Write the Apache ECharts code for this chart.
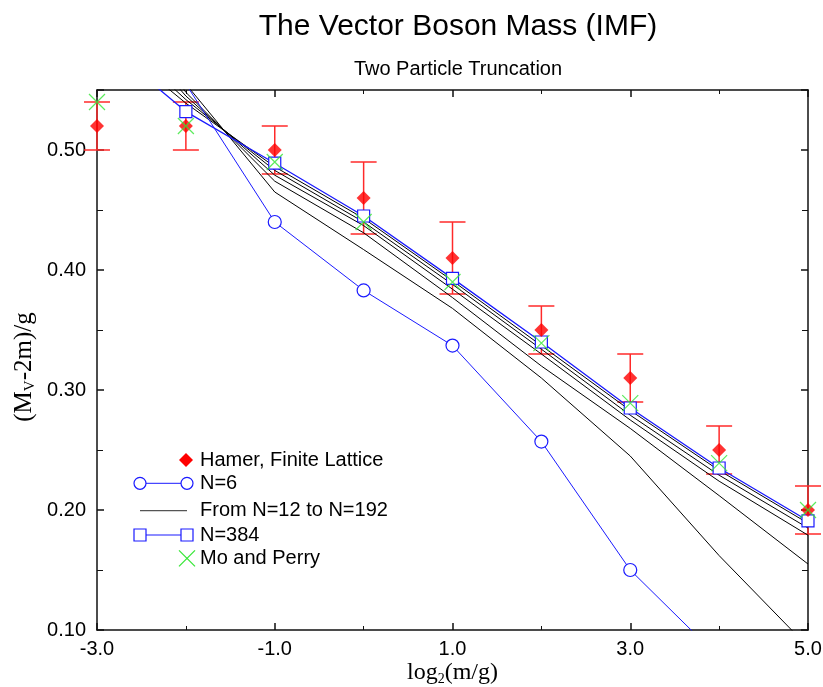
<!DOCTYPE html>
<html><head><meta charset="utf-8">
<script src="https://cdn.jsdelivr.net/npm/echarts@6/dist/echarts.min.js"></script>
<style>html,body{margin:0;padding:0;background:#fff}#c{width:823px;height:687px}</style>
</head><body><div id="c"></div>
<script>
// ---- data ----
const xVals = [-3, -2, -1, 0, 1, 2, 3, 4, 5];
const hamer = [0.52, 0.52, 0.50, 0.46, 0.41, 0.35, 0.31, 0.25, 0.20];
const hamerErr = [0.02, 0.02, 0.02, 0.03, 0.03, 0.02, 0.02, 0.02, 0.02];
const moPerry = [0.54, 0.52, 0.49, 0.44, 0.39, 0.339, 0.289, 0.239, 0.20];
const n6X = [-2, -1, 0, 1, 2, 3, 4];
const n6 = [0.555, 0.44, 0.383, 0.337, 0.257, 0.15, 0.077];
const n384 = [0.594, 0.532, 0.489, 0.445, 0.393, 0.340, 0.285, 0.235, 0.191];
const n12 = [0.70, 0.555, 0.465, 0.417, 0.368, 0.310, 0.245, 0.162, 0.086];
const n24 = [0.66, 0.548, 0.474, 0.431, 0.377, 0.320, 0.268, 0.212, 0.155];
const n48 = [0.63, 0.545, 0.479, 0.437, 0.384, 0.330, 0.275, 0.224, 0.179];
const n96 = [0.61, 0.542, 0.483, 0.440, 0.388, 0.334, 0.279, 0.229, 0.185];
const n192 = [0.60, 0.539, 0.486, 0.443, 0.391, 0.337, 0.283, 0.233, 0.189];
const xTickLabels = ['-3.0', '-1.0', '1.0', '3.0', '5.0'];
const yTickLabels = ['0.10', '0.20', '0.30', '0.40', '0.50'];

// ---- helpers ----
const pairs = (xs, ys) => xs.map((x, i) => [x, ys[i]]);
const SANS = '"Liberation Sans", Arial, sans-serif';
const SERIF = '"Liberation Serif", "Times New Roman", serif';
const BLUE = '#1a1aff';
const GREEN = '#33e633';
const RED = '#ff0000';
const ERR = '#ff2a2a';

const chart = echarts.init(document.getElementById('c'), null, {renderer: 'canvas'});

const blackLine = (name, ys) => ({
  type: 'line', name, data: pairs(xVals, ys), showSymbol: false, symbol: 'none',
  lineStyle: {color: '#000', width: 1}, clip: true, z: 2, silent: true
});

const xFmt = v => {
  const s = v.toFixed(1);
  return xTickLabels.includes(s) ? s : '';
};
const yFmt = v => {
  const s = v.toFixed(2);
  return yTickLabels.includes(s) ? s : '';
};

const axisCommonX = {
  type: 'value', min: -3, max: 5, interval: 2,
  axisLine: {show: true, onZero: false, lineStyle: {color: '#111', width: 1.5}},
  axisTick: {show: true, inside: true, length: 7, lineStyle: {color: '#111', width: 1.5}},
  minorTick: {show: true, splitNumber: 2, length: 4, lineStyle: {color: '#111', width: 1}},
  splitLine: {show: false}, minorSplitLine: {show: false}
};
const axisCommonY = {
  type: 'value', min: 0.1, max: 0.55, interval: 0.1,
  axisLine: {show: true, onZero: false, lineStyle: {color: '#111', width: 1.5}},
  axisTick: {show: true, inside: true, length: 7, lineStyle: {color: '#111', width: 1.5}},
  minorTick: {show: true, splitNumber: 2, length: 6, lineStyle: {color: '#111', width: 1}},
  splitLine: {show: false}, minorSplitLine: {show: false}
};

// legend geometry (drawn as graphics)
const LX1 = 140, LX2 = 187, LT = 200;
const rows = [460, 483.3, 510.7, 535, 558.3];
const txt = (t, y) => ({type: 'text', x: LT, y, style: {text: t, font: '20px ' + SANS, fill: '#000', verticalAlign: 'middle', align: 'left'}});

const option = {
  backgroundColor: '#fff',
  animation: false,
  title: {
    text: 'The Vector Boson Mass (IMF)',
    subtext: 'Two Particle Truncation',
    left: 453, textAlign: 'center', top: 7, itemGap: 17,
    textStyle: {fontFamily: SANS, fontSize: 30, fontWeight: 'normal', color: '#000'},
    subtextStyle: {fontFamily: SANS, fontSize: 20, color: '#000'}
  },
  grid: {left: 97, right: 15, top: 90, bottom: 57, containLabel: false, outerBoundsMode: 'none'},
  xAxis: [
    Object.assign({}, axisCommonX, {
      position: 'bottom',
      axisLabel: {show: true, formatter: xFmt, fontFamily: SANS, fontSize: 20, color: '#000', margin: 9,
        showMinLabel: true, showMaxLabel: true},
      name: '{a|log}{s|2}{a|(m/g)}', nameLocation: 'middle', nameGap: 30, nameMoveOverlap: false,
      nameTextStyle: {fontFamily: SERIF, color: '#000',
        rich: {
          a: {fontFamily: SERIF, fontSize: 24, lineHeight: 26, color: '#000'},
          s: {fontFamily: SERIF, fontSize: 14, lineHeight: 14, verticalAlign: 'bottom', color: '#000'}
        }}
    }),
    Object.assign({}, axisCommonX, {position: 'top', axisLabel: {show: false}})
  ],
  yAxis: [
    Object.assign({}, axisCommonY, {
      position: 'left',
      axisLabel: {show: true, formatter: yFmt, fontFamily: SANS, fontSize: 20, color: '#000', margin: 11},
      name: '{a|(M}{s|V}{a|-2m)/g}', nameLocation: 'middle', nameGap: 59, nameRotate: 90, nameMoveOverlap: false,
      nameTextStyle: {fontFamily: SERIF, color: '#000', padding: [0, 14, 0, 0],
        rich: {
          a: {fontFamily: SERIF, fontSize: 25, lineHeight: 27, color: '#000'},
          s: {fontFamily: SERIF, fontSize: 15, lineHeight: 15, verticalAlign: 'bottom', color: '#000'}
        }}
    }),
    Object.assign({}, axisCommonY, {position: 'right', axisLabel: {show: false}})
  ],
  series: [
    {
      type: 'custom', name: 'err', silent: true, z: 1,
      data: xVals.map((x, i) => [x, hamer[i] - hamerErr[i], hamer[i] + hamerErr[i]]),
      encode: {x: 0, y: [1, 2]},
      renderItem: (params, api) => {
        const x = api.value(0);
        const lo = api.coord([x, api.value(1)]);
        const hi = api.coord([x, api.value(2)]);
        const w = 13;
        const st = {stroke: ERR, lineWidth: 1.5};
        return {type: 'group', children: [
          {type: 'line', shape: {x1: lo[0], y1: lo[1], x2: hi[0], y2: hi[1]}, style: st},
          {type: 'line', shape: {x1: lo[0] - w, y1: lo[1], x2: lo[0] + w, y2: lo[1]}, style: st},
          {type: 'line', shape: {x1: hi[0] - w, y1: hi[1], x2: hi[0] + w, y2: hi[1]}, style: st}
        ]};
      }
    },
    blackLine('N=12', n12),
    blackLine('N=24', n24),
    blackLine('N=48', n48),
    blackLine('N=96', n96),
    blackLine('N=192', n192),
    {
      type: 'line', name: 'N=6', data: pairs(n6X, n6), clip: true, z: 3,
      symbol: 'circle', symbolSize: 13, showSymbol: true,
      lineStyle: {color: BLUE, width: 1},
      itemStyle: {color: '#fff', borderColor: BLUE, borderWidth: 1.2}
    },
    {
      type: 'line', name: 'N=384', data: pairs(xVals, n384), clip: true, z: 4,
      symbol: 'rect', symbolSize: 12, showSymbol: true,
      lineStyle: {color: BLUE, width: 1.3},
      itemStyle: {color: '#fff', borderColor: BLUE, borderWidth: 1.2}
    },
    {
      type: 'scatter', name: 'Hamer, Finite Lattice', data: pairs(xVals, hamer), z: 5, clip: false,
      symbol: 'diamond', symbolSize: 14,
      itemStyle: {color: RED}
    },
    {
      type: 'scatter', name: 'Mo and Perry', data: pairs(xVals, moPerry), z: 6, clip: false,
      symbol: 'path://M0,0L10,10M10,0L0,10', symbolSize: 16,
      itemStyle: {color: 'rgba(0,0,0,0)', borderColor: GREEN, borderWidth: 1.2}
    }
  ],
  graphic: [
    {type: 'polygon', shape: {points: [[186, 453], [193, 460], [186, 467], [179, 460]]}, style: {fill: RED}},
    txt('Hamer, Finite Lattice', rows[0]),
    {type: 'line', shape: {x1: LX1, y1: rows[1], x2: LX2, y2: rows[1]}, style: {stroke: BLUE, lineWidth: 1}},
    {type: 'circle', shape: {cx: LX1, cy: rows[1], r: 6}, style: {fill: '#fff', stroke: BLUE, lineWidth: 1.2}},
    {type: 'circle', shape: {cx: LX2, cy: rows[1], r: 6}, style: {fill: '#fff', stroke: BLUE, lineWidth: 1.2}},
    txt('N=6', rows[1]),
    {type: 'line', shape: {x1: LX1, y1: rows[2], x2: LX2, y2: rows[2]}, style: {stroke: '#555', lineWidth: 1.2}},
    txt('From N=12 to N=192', rows[2]),
    {type: 'line', shape: {x1: LX1, y1: rows[3], x2: LX2, y2: rows[3]}, style: {stroke: BLUE, lineWidth: 1.2}},
    {type: 'rect', shape: {x: LX1 - 6, y: rows[3] - 6, width: 12, height: 12}, style: {fill: '#fff', stroke: BLUE, lineWidth: 1.2}},
    {type: 'rect', shape: {x: LX2 - 6, y: rows[3] - 6, width: 12, height: 12}, style: {fill: '#fff', stroke: BLUE, lineWidth: 1.2}},
    txt('N=384', rows[3]),
    {type: 'line', shape: {x1: 179, y1: rows[4] - 8, x2: 195, y2: rows[4] + 8}, style: {stroke: GREEN, lineWidth: 1.2}},
    {type: 'line', shape: {x1: 179, y1: rows[4] + 8, x2: 195, y2: rows[4] - 8}, style: {stroke: GREEN, lineWidth: 1.2}},
    txt('Mo and Perry', rows[4])
  ]
};
chart.setOption(option);
</script>
</body></html>
